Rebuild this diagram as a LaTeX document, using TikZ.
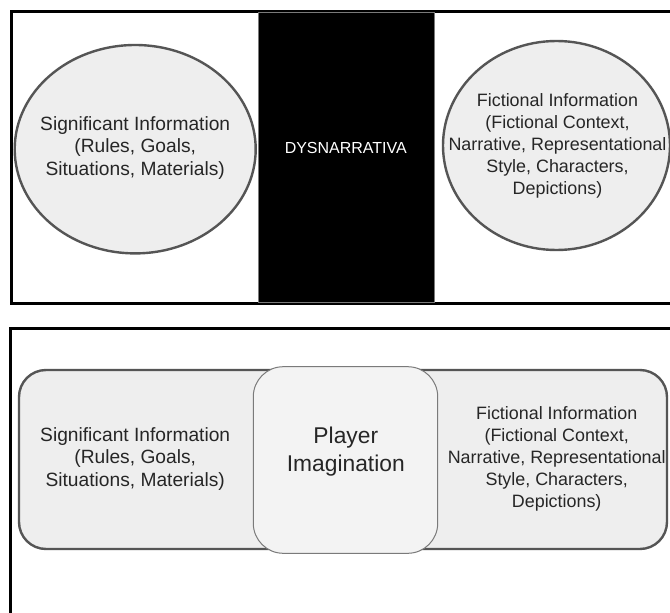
\documentclass[tikz,border=0pt]{standalone}
\usepackage{fontspec}
\setmainfont{Liberation Sans}
\usetikzlibrary{shapes.geometric}
\definecolor{ellborder}{HTML}{555555}
\definecolor{ellfill}{HTML}{EEEEEE}
\definecolor{sqfill}{HTML}{F3F3F3}
\definecolor{sqborder}{HTML}{7A7A7A}
\definecolor{txt}{HTML}{262626}
\begin{document}
\begin{tikzpicture}[x=1pt,y=-1pt,
  frame/.style={draw=black,line width=3pt},
  infoell/.style={ellipse,draw=ellborder,fill=ellfill,line width=2.4pt,inner sep=0pt},
  bigtxt/.style={text=txt,align=center,font=\fontsize{19.2}{22.5}\selectfont},
  smalltxt/.style={text=txt,align=center,font=\fontsize{17.9}{22}\selectfont},
  bar/.style={rectangle,draw=sqborder,fill=black,line width=1pt,inner sep=0pt},
  band/.style={rectangle,rounded corners=27pt,draw=ellborder,fill=ellfill,line width=2.4pt,inner sep=0pt},
  imag/.style={rectangle,rounded corners=30pt,draw=sqborder,fill=sqfill,line width=1pt,inner sep=0pt}]
\clip (0,0) rectangle (670,613);
\fill[white] (0,0) rectangle (670,613);
% top panel
\draw[frame] (11.5,11.5) rectangle (700,303.3);
\node[bar,minimum width=176pt,minimum height=290pt] (dysbar) at (346,157) {};
\node[text=white,font=\fontsize{16}{19}\selectfont] (dys) at (345.8,148.3) {DYSNARRATIVA};
\node[infoell,minimum width=241pt,minimum height=208.4pt] (sig) at (135.2,149.2) {};
\node[bigtxt] (sigt) at (135.2,148) {Significant Information\\(Rules, Goals,\\Situations, Materials)};
\node[infoell,minimum width=227pt,minimum height=209pt] (fic) at (556.5,145.5) {};
\node[smalltxt] (fict) at (557.5,146) {Fictional Information\\(Fictional Context,\\Narrative, Representational\\Style, Characters,\\Depictions)};
% bottom panel
\draw[frame] (10.5,328.3) rectangle (700,650);
\node[band,minimum width=648pt,minimum height=179pt] (band) at (343,459.5) {};
\node[imag,minimum width=184.4pt,minimum height=186.6pt] (pi) at (345.5,460) {};
\node[text=txt,align=center,font=\fontsize{22.8}{27.5}\selectfont] (pit) at (345.8,451.5) {Player\\Imagination};
\node[bigtxt] (sigb) at (135.2,459) {Significant Information\\(Rules, Goals,\\Situations, Materials)};
\node[smalltxt] (ficb) at (556.7,459) {Fictional Information\\(Fictional Context,\\Narrative, Representational\\Style, Characters,\\Depictions)};
\end{tikzpicture}
\end{document}
